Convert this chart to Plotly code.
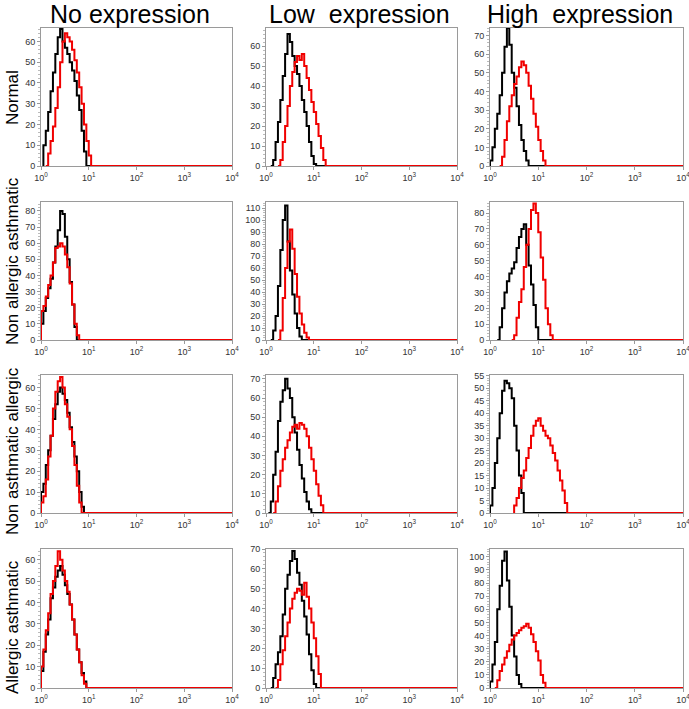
import plotly.graph_objects as go

# ---------------- text ----------------
ROW_LABELS = ["Normal", "Non allergic asthmatic", "Non asthmatic allergic", "Allergic asthmatic"]
COL_TITLES = ["No expression", "Low  expression", "High  expression"]
X_TICK_VALUES = [1, 10, 100, 1000, 10000]
X_TICK_TEXT = ["10<sup>0</sup>", "10<sup>1</sup>", "10<sup>2</sup>", "10<sup>3</sup>", "10<sup>4</sup>"]

# ---------------- data ----------------
# histogram counts per log10 bin (bin width in decades)
LOG_BIN = 0.05
# first bin position (log10 of fluorescence) for each curve: rows x columns
CTRL_START = [[0.05, 0.10, 0.00],
              [0.00, 0.10, 0.15],
              [0.00, 0.05, 0.00],
              [0.00, 0.10, 0.00]]
STAIN_START = [[0.10, 0.25, 0.20],
               [0.00, 0.25, 0.45],
               [0.00, 0.15, 0.50],
               [0.00, 0.20, 0.10]]
Y_MAX = [[66.5, 69, 74],
         [85.5, 115, 87],
         [66, 72, 55.3],
         [65, 70, 106]]
Y_DTICK = [[10, 10, 10],
           [10, 10, 10],
           [10, 10, 5],
           [10, 10, 10]]

# black = control, red = stained
ctrl_normal_no = [10, 17, 26, 36, 45, 54, 62, 66, 60, 57, 54, 50, 46, 41, 34, 27, 17, 7, 0]
stain_normal_no = [0, 6, 12, 19, 28, 38, 50, 60, 64, 62, 60, 56, 51, 45, 38, 30, 20, 12, 5, 0]
ctrl_normal_low = [0, 3, 12, 22, 33, 45, 56, 66, 62, 55, 50, 46, 40, 33, 27, 20, 12, 5, 1, 0]
stain_normal_low = [0, 3, 12, 20, 30, 40, 47, 52, 55, 53, 56, 50, 44, 38, 32, 27, 21, 15, 9, 3, 0]
ctrl_normal_high = [3, 10, 20, 28, 38, 50, 64, 74, 65, 50, 42, 32, 22, 14, 8, 3, 0]
stain_normal_high = [0, 5, 14, 24, 32, 38, 44, 48, 53, 56, 54, 50, 43, 36, 28, 21, 14, 8, 3, 0]

ctrl_naa_no = [10, 18, 26, 32, 38, 48, 58, 68, 80, 78, 64, 50, 36, 22, 8, 0]
stain_naa_no = [18, 21, 27, 34, 40, 48, 57, 58, 60, 58, 53, 45, 35, 22, 10, 3, 0]
ctrl_naa_low = [0, 8, 20, 45, 75, 100, 112, 82, 58, 38, 22, 10, 3, 0]
stain_naa_low = [0, 8, 35, 60, 82, 92, 76, 55, 36, 22, 13, 6, 2, 0]
ctrl_naa_high = [0, 8, 20, 30, 37, 42, 45, 49, 58, 65, 70, 73, 60, 47, 35, 22, 8, 0]
stain_naa_high = [0, 3, 14, 24, 32, 46, 60, 70, 82, 86, 80, 68, 52, 38, 20, 10, 3, 0]

ctrl_nasa_no = [10, 14, 23, 30, 37, 45, 52, 58, 60, 57, 54, 48, 41, 34, 27, 20, 10, 3, 0]
stain_nasa_no = [5, 8, 16, 27, 37, 50, 58, 63, 65, 60, 52, 46, 40, 32, 23, 13, 5, 0]
ctrl_nasa_low = [0, 6, 20, 32, 48, 58, 64, 70, 65, 60, 50, 42, 33, 25, 18, 11, 6, 2, 0]
stain_nasa_low = [0, 6, 14, 22, 28, 34, 38, 42, 45, 46, 44, 47, 46, 44, 40, 34, 28, 22, 15, 9, 4, 0]
ctrl_nasa_high = [3, 10, 20, 30, 40, 49, 53, 52, 50, 46, 35, 25, 15, 8, 0]
stain_nasa_high = [3, 6, 10, 14, 17, 22, 26, 31, 35, 37, 38, 35, 33, 31, 30, 27, 24, 21, 17, 13, 9, 4, 0]

ctrl_aa_no = [8, 17, 25, 32, 42, 47, 52, 55, 57, 53, 48, 44, 39, 32, 25, 18, 12, 7, 3, 0]
stain_aa_no = [10, 18, 27, 35, 44, 50, 57, 64, 60, 55, 50, 45, 39, 32, 25, 18, 12, 6, 2, 0]
ctrl_aa_low = [0, 5, 12, 18, 26, 37, 50, 57, 64, 69, 65, 58, 52, 44, 36, 27, 17, 9, 2, 0]
stain_aa_low = [0, 4, 12, 19, 26, 33, 40, 45, 48, 50, 49, 47, 53, 46, 40, 33, 25, 16, 7, 0]
ctrl_aa_high = [5, 18, 35, 60, 78, 97, 104, 82, 62, 40, 24, 10, 3, 0]
stain_aa_high = [0, 6, 13, 18, 23, 28, 33, 37, 40, 42, 44, 46, 47, 49, 46, 41, 35, 28, 21, 10, 4, 0]

CTRL = [[ctrl_normal_no, ctrl_normal_low, ctrl_normal_high],
        [ctrl_naa_no, ctrl_naa_low, ctrl_naa_high],
        [ctrl_nasa_no, ctrl_nasa_low, ctrl_nasa_high],
        [ctrl_aa_no, ctrl_aa_low, ctrl_aa_high]]
STAIN = [[stain_normal_no, stain_normal_low, stain_normal_high],
         [stain_naa_no, stain_naa_low, stain_naa_high],
         [stain_nasa_no, stain_nasa_low, stain_nasa_high],
         [stain_aa_no, stain_aa_low, stain_aa_high]]

# ---------------- layout geometry (page pixels) ----------------
W, H = 689, 709
COL_PX = [(41, 232), (266, 457), (490, 683)]
ROW_PX = [(28, 166), (202, 340), (375, 513), (549, 688)]
TITLE_CENTER_PX = [130, 359, 580]
TITLE_Y_PX = 14
ROW_CENTER_PX = [98, 261, 451, 627]
ROW_LABEL_X_PX = 12
FONT = "Liberation Sans, Arial, sans-serif"
AXIS_GRAY = "#9a9a9a"
RED = "#f00000"


def px_x(p):
    return p / W


def px_y(p):
    return 1 - p / H


def curve(counts, start):
    xs = [10 ** start]
    ys = [0]
    for i, c in enumerate(counts):
        xs.append(10 ** (start + i * LOG_BIN))
        ys.append(c)
    xs.append(10 ** 4)
    ys.append(0)
    return xs, ys


fig = go.Figure()
layout = {}
for r in range(4):
    for c in range(3):
        k = r * 3 + c + 1
        xa = "xaxis" if k == 1 else f"xaxis{k}"
        ya = "yaxis" if k == 1 else f"yaxis{k}"
        xref = "x" if k == 1 else f"x{k}"
        yref = "y" if k == 1 else f"y{k}"
        x0, x1 = COL_PX[c]
        t, b = ROW_PX[r]
        layout[xa] = dict(
            domain=[px_x(x0), px_x(x1)], anchor=yref, type="log", range=[0, 4],
            tickvals=X_TICK_VALUES, ticktext=X_TICK_TEXT, automargin=False,
            ticklabeloverflow="allow",
            showline=True, linecolor=AXIS_GRAY, linewidth=1, mirror=True,
            ticks="outside", ticklen=3, tickcolor=AXIS_GRAY,
            showgrid=False, zeroline=False,
            tickfont=dict(size=9, color="#333333", family=FONT),
        )
        layout[ya] = dict(
            domain=[px_y(b), px_y(t)], anchor=xref, range=[0, Y_MAX[r][c]],
            dtick=Y_DTICK[r][c], tick0=0, automargin=False,
            ticklabeloverflow="allow",
            showline=True, linecolor=AXIS_GRAY, linewidth=1, mirror=True,
            ticks="outside", ticklen=3, tickcolor=AXIS_GRAY,
            minor=dict(ticks="outside", ticklen=2, dtick=Y_DTICK[r][c] / 5, tickcolor="#bbbbbb"),
            showgrid=False, zeroline=False,
            tickfont=dict(size=9, color="#333333", family=FONT),
        )
        bx, by = curve(CTRL[r][c], CTRL_START[r][c])
        rx, ry = curve(STAIN[r][c], STAIN_START[r][c])
        fig.add_trace(go.Scatter(x=bx, y=by, mode="lines", line=dict(color="black", width=2, shape="hv"),
                                 xaxis=xref, yaxis=yref, showlegend=False, hoverinfo="skip"))
        fig.add_trace(go.Scatter(x=rx, y=ry, mode="lines", line=dict(color=RED, width=2, shape="hv"),
                                 xaxis=xref, yaxis=yref, showlegend=False, hoverinfo="skip"))

annotations = []
for c, title in enumerate(COL_TITLES):
    annotations.append(dict(text=title.replace("  ", "&nbsp; "), x=px_x(TITLE_CENTER_PX[c]), y=px_y(TITLE_Y_PX),
                            xref="paper", yref="paper", showarrow=False,
                            xanchor="center", yanchor="middle",
                            font=dict(size=25, color="black", family=FONT)))
for r, lab in enumerate(ROW_LABELS):
    annotations.append(dict(text=lab, x=px_x(ROW_LABEL_X_PX), y=px_y(ROW_CENTER_PX[r]),
                            xref="paper", yref="paper", showarrow=False, textangle=-90,
                            xanchor="center", yanchor="middle",
                            font=dict(size=17, color="black", family=FONT)))

fig.update_layout(
    width=W, height=H, margin=dict(l=0, r=0, t=0, b=0),
    paper_bgcolor="white", plot_bgcolor="white", hovermode=False,
    annotations=annotations, **layout,
)
fig.write_html("out.html", config={"displayModeBar": False, "staticPlot": True},
               post_script="document.body.style.margin='0';document.body.style.overflow='hidden';")
